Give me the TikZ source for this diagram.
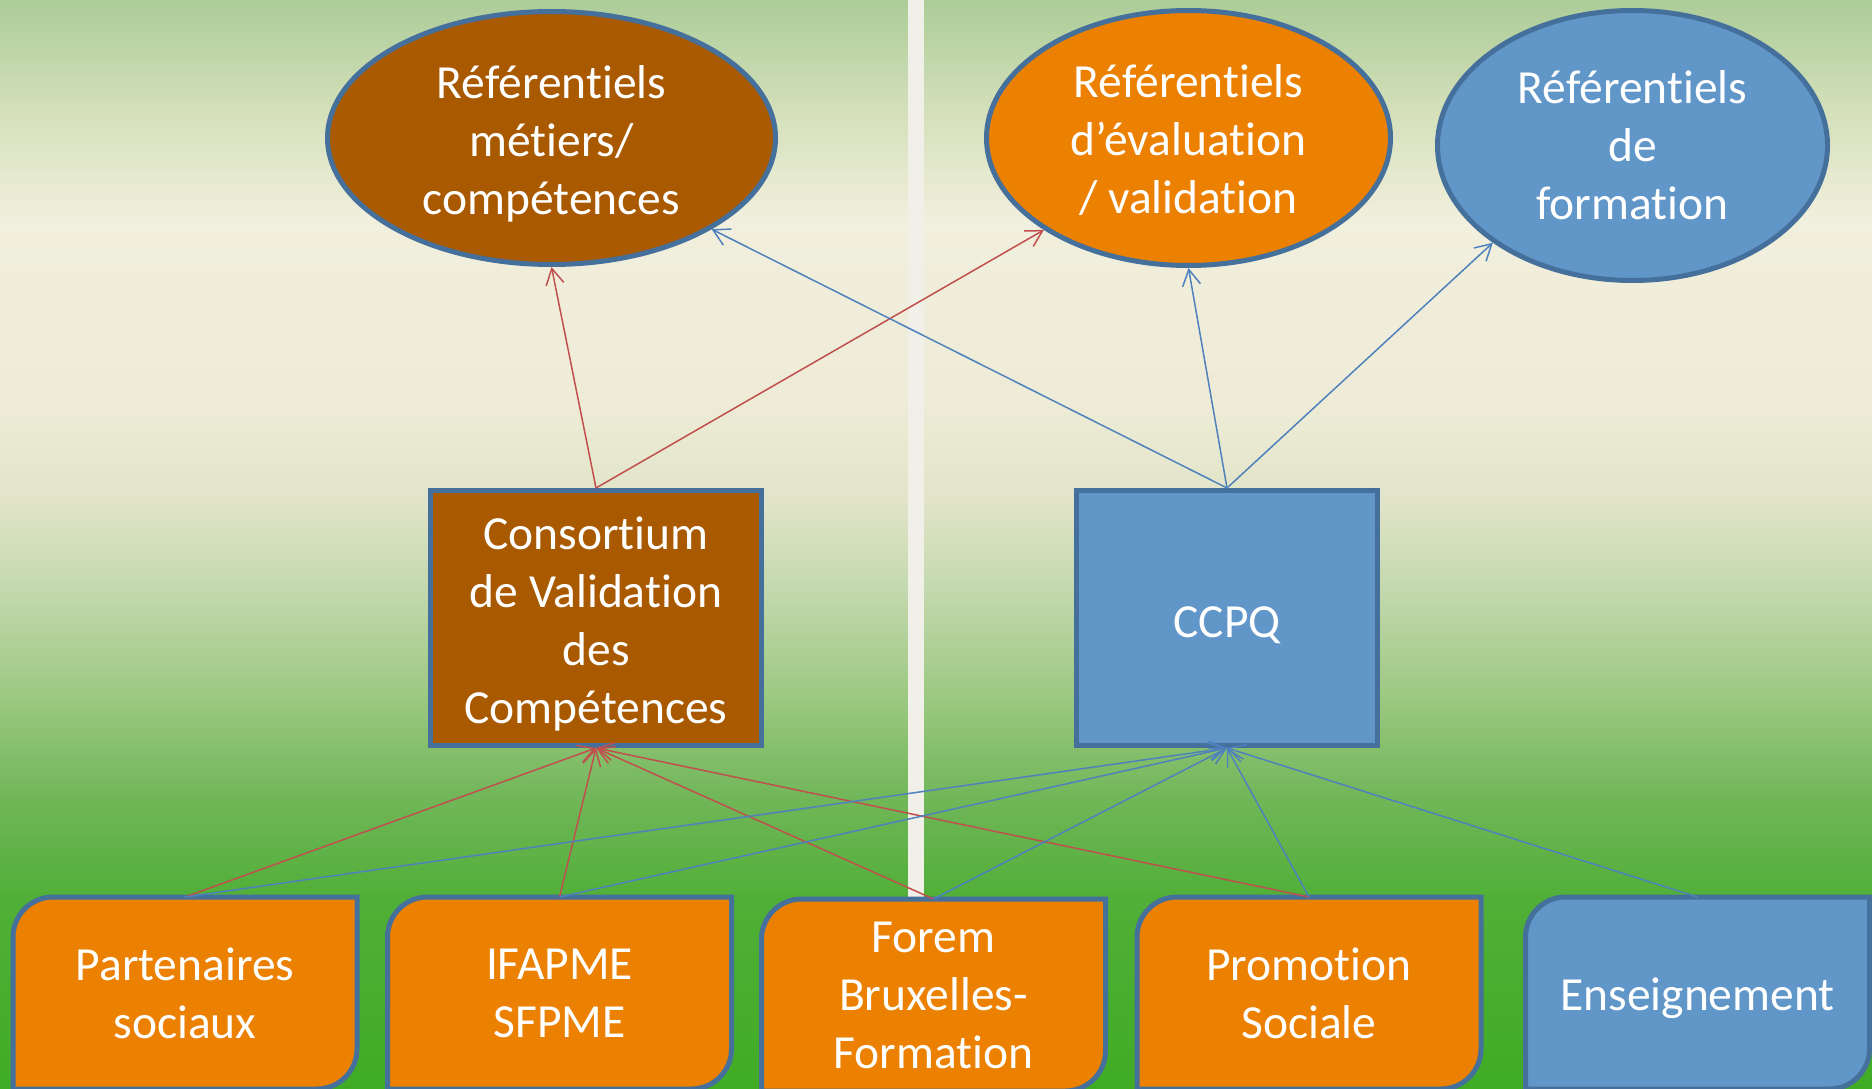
\documentclass[tikz,border=0pt]{standalone}
\usepackage{fontspec}
\setmainfont{Carlito}[Ligatures=NoCommon]
\usetikzlibrary{shapes.geometric,arrows.meta,calc}
\pgfdeclarelayer{background}
\pgfsetlayers{background,main}
\definecolor{brownfill}{RGB}{169,90,0}
\definecolor{orangefill}{RGB}{236,128,0}
\definecolor{bluefill}{RGB}{97,150,200}
\definecolor{borderblue}{RGB}{70,112,156}
\definecolor{linered}{RGB}{192,80,77}
\definecolor{lineblue}{RGB}{79,129,189}
\definecolor{stripecol}{RGB}{240,240,232}
\definecolor{gA}{RGB}{64,172,36}
\definecolor{gB}{RGB}{80,175,55}
\definecolor{gC}{RGB}{112,182,88}
\definecolor{gD}{RGB}{155,200,128}
\definecolor{gE}{RGB}{192,215,170}
\definecolor{gF}{RGB}{225,228,200}
\definecolor{gG}{RGB}{238,236,215}
\definecolor{gH}{RGB}{241,239,221}
\definecolor{gI}{RGB}{212,224,186}
\definecolor{gJ}{RGB}{172,204,152}
\pgfdeclareverticalshading{bgshade}{100bp}{color(0bp)=(gA); color(25bp)=(gA); color(33.7bp)=(gB); color(38.3bp)=(gC); color(42.9bp)=(gD); color(47.5bp)=(gE); color(52bp)=(gF); color(56.6bp)=(gG); color(64.9bp)=(gH); color(69.9bp)=(gI); color(75bp)=(gJ); color(100bp)=(gJ)}
\newcommand{\snipshape}[2]{%
  \draw[bline, fill=#2] (#1.south west) -- ($(#1.north west)+(0,40)$)
    .. controls ($(#1.north west)+(0,18)$) and ($(#1.north west)+(18,0)$) .. ($(#1.north west)+(40,0)$)
    -- (#1.north east) -- ($(#1.south east)+(0,-40)$)
    .. controls ($(#1.south east)+(0,-18)$) and ($(#1.south east)+(-18,0)$) .. ($(#1.south east)+(-40,0)$)
    -- cycle;}
\newcommand{\tall}[1]{\rule{0pt}{#1}}
\tikzset{
  txt/.style={text=white, align=center, font=\fontsize{47.5}{58}\selectfont},
  ell/.style={ellipse, draw=borderblue, line width=5pt, inner sep=0pt, txt},
  rbox/.style={rectangle, draw=borderblue, line width=5pt, inner sep=0pt, txt},
  bnode/.style={rectangle, minimum width=344pt, minimum height=192pt, inner sep=0pt, outer sep=0pt, txt},
  bline/.style={draw=borderblue, line width=5pt},
  redarr/.style={draw=linered, line width=1.5pt, -{Straight Barb[length=16pt,width=18pt]}},
  bluearr/.style={draw=lineblue, line width=1.5pt, -{Straight Barb[length=16pt,width=18pt]}}
}
\begin{document}
\begin{tikzpicture}[x=1pt,y=-1pt]
\useasboundingbox (0,0) rectangle (1872,1089);
\begin{pgfonlayer}{background}
  \shade[shading=bgshade] (0,0) rectangle (1872,1089);
  \fill[stripecol] (908,0) rectangle (924,1089);
\end{pgfonlayer}
% ellipses
\node[ell, fill=brownfill, minimum width=448pt, minimum height=253pt] (e1) at (551.5,138) {\tall{45pt}Référentiels\\métiers/\\compétences};
\node[ell, fill=orangefill, minimum width=404pt, minimum height=255pt] (e2) at (1188.5,138) {\tall{37pt}Référentiels\\d’évaluation\\/ validation};
\node[ell, fill=bluefill, minimum width=390pt, minimum height=270pt] (e3) at (1632.5,145.5) {Référentiels\\de\\formation};
% middle boxes
\node[rbox, fill=brownfill, minimum width=330.5pt, minimum height=255pt] (r1) at (596,618) {\tall{45pt}Consortium\\de Validation\\des\\Compétences};
\node[rbox, fill=bluefill, minimum width=301pt, minimum height=255pt] (r2) at (1227,618) {\tall{46pt}CCPQ};
% bottom boxes
\node[bnode] (b1) at (185,993) {Partenaires\\sociaux};
\node[bnode] (b2) at (559.5,993) {IFAPME\\SFPME};
\node[bnode] (b3) at (933.5,995) {Forem\\Bruxelles-\\Formation};
\node[bnode] (b4) at (1309,993) {Promotion\\Sociale};
\node[bnode] (b5) at (1697.5,993) {\tall{43pt}Enseignement};
\begin{pgfonlayer}{background}
  \snipshape{b1}{orangefill}
  \snipshape{b2}{orangefill}
  \snipshape{b3}{orangefill}
  \snipshape{b4}{orangefill}
  \snipshape{b5}{bluefill}
\end{pgfonlayer}
% connectors top
\draw[redarr] (r1.north) -- (e1.south);
\draw[redarr] (r1.north) -- (e2.south west);
\draw[bluearr] (r2.north) -- (e1.south east);
\draw[bluearr] (r2.north) -- (e2.south);
\draw[bluearr] (r2.north) -- (e3.south west);
% connectors bottom
\draw[redarr] (b1.north) -- (r1.south);
\draw[redarr] (b2.north) -- (r1.south);
\draw[redarr] (b3.north) -- (r1.south);
\draw[redarr] (b4.north) -- (r1.south);
\draw[bluearr] (b1.north) -- (r2.south);
\draw[bluearr] (b2.north) -- (r2.south);
\draw[bluearr] (b3.north) -- (r2.south);
\draw[bluearr] (b4.north) -- (r2.south);
\draw[bluearr] (b5.north) -- (r2.south);
\end{tikzpicture}
\end{document}
